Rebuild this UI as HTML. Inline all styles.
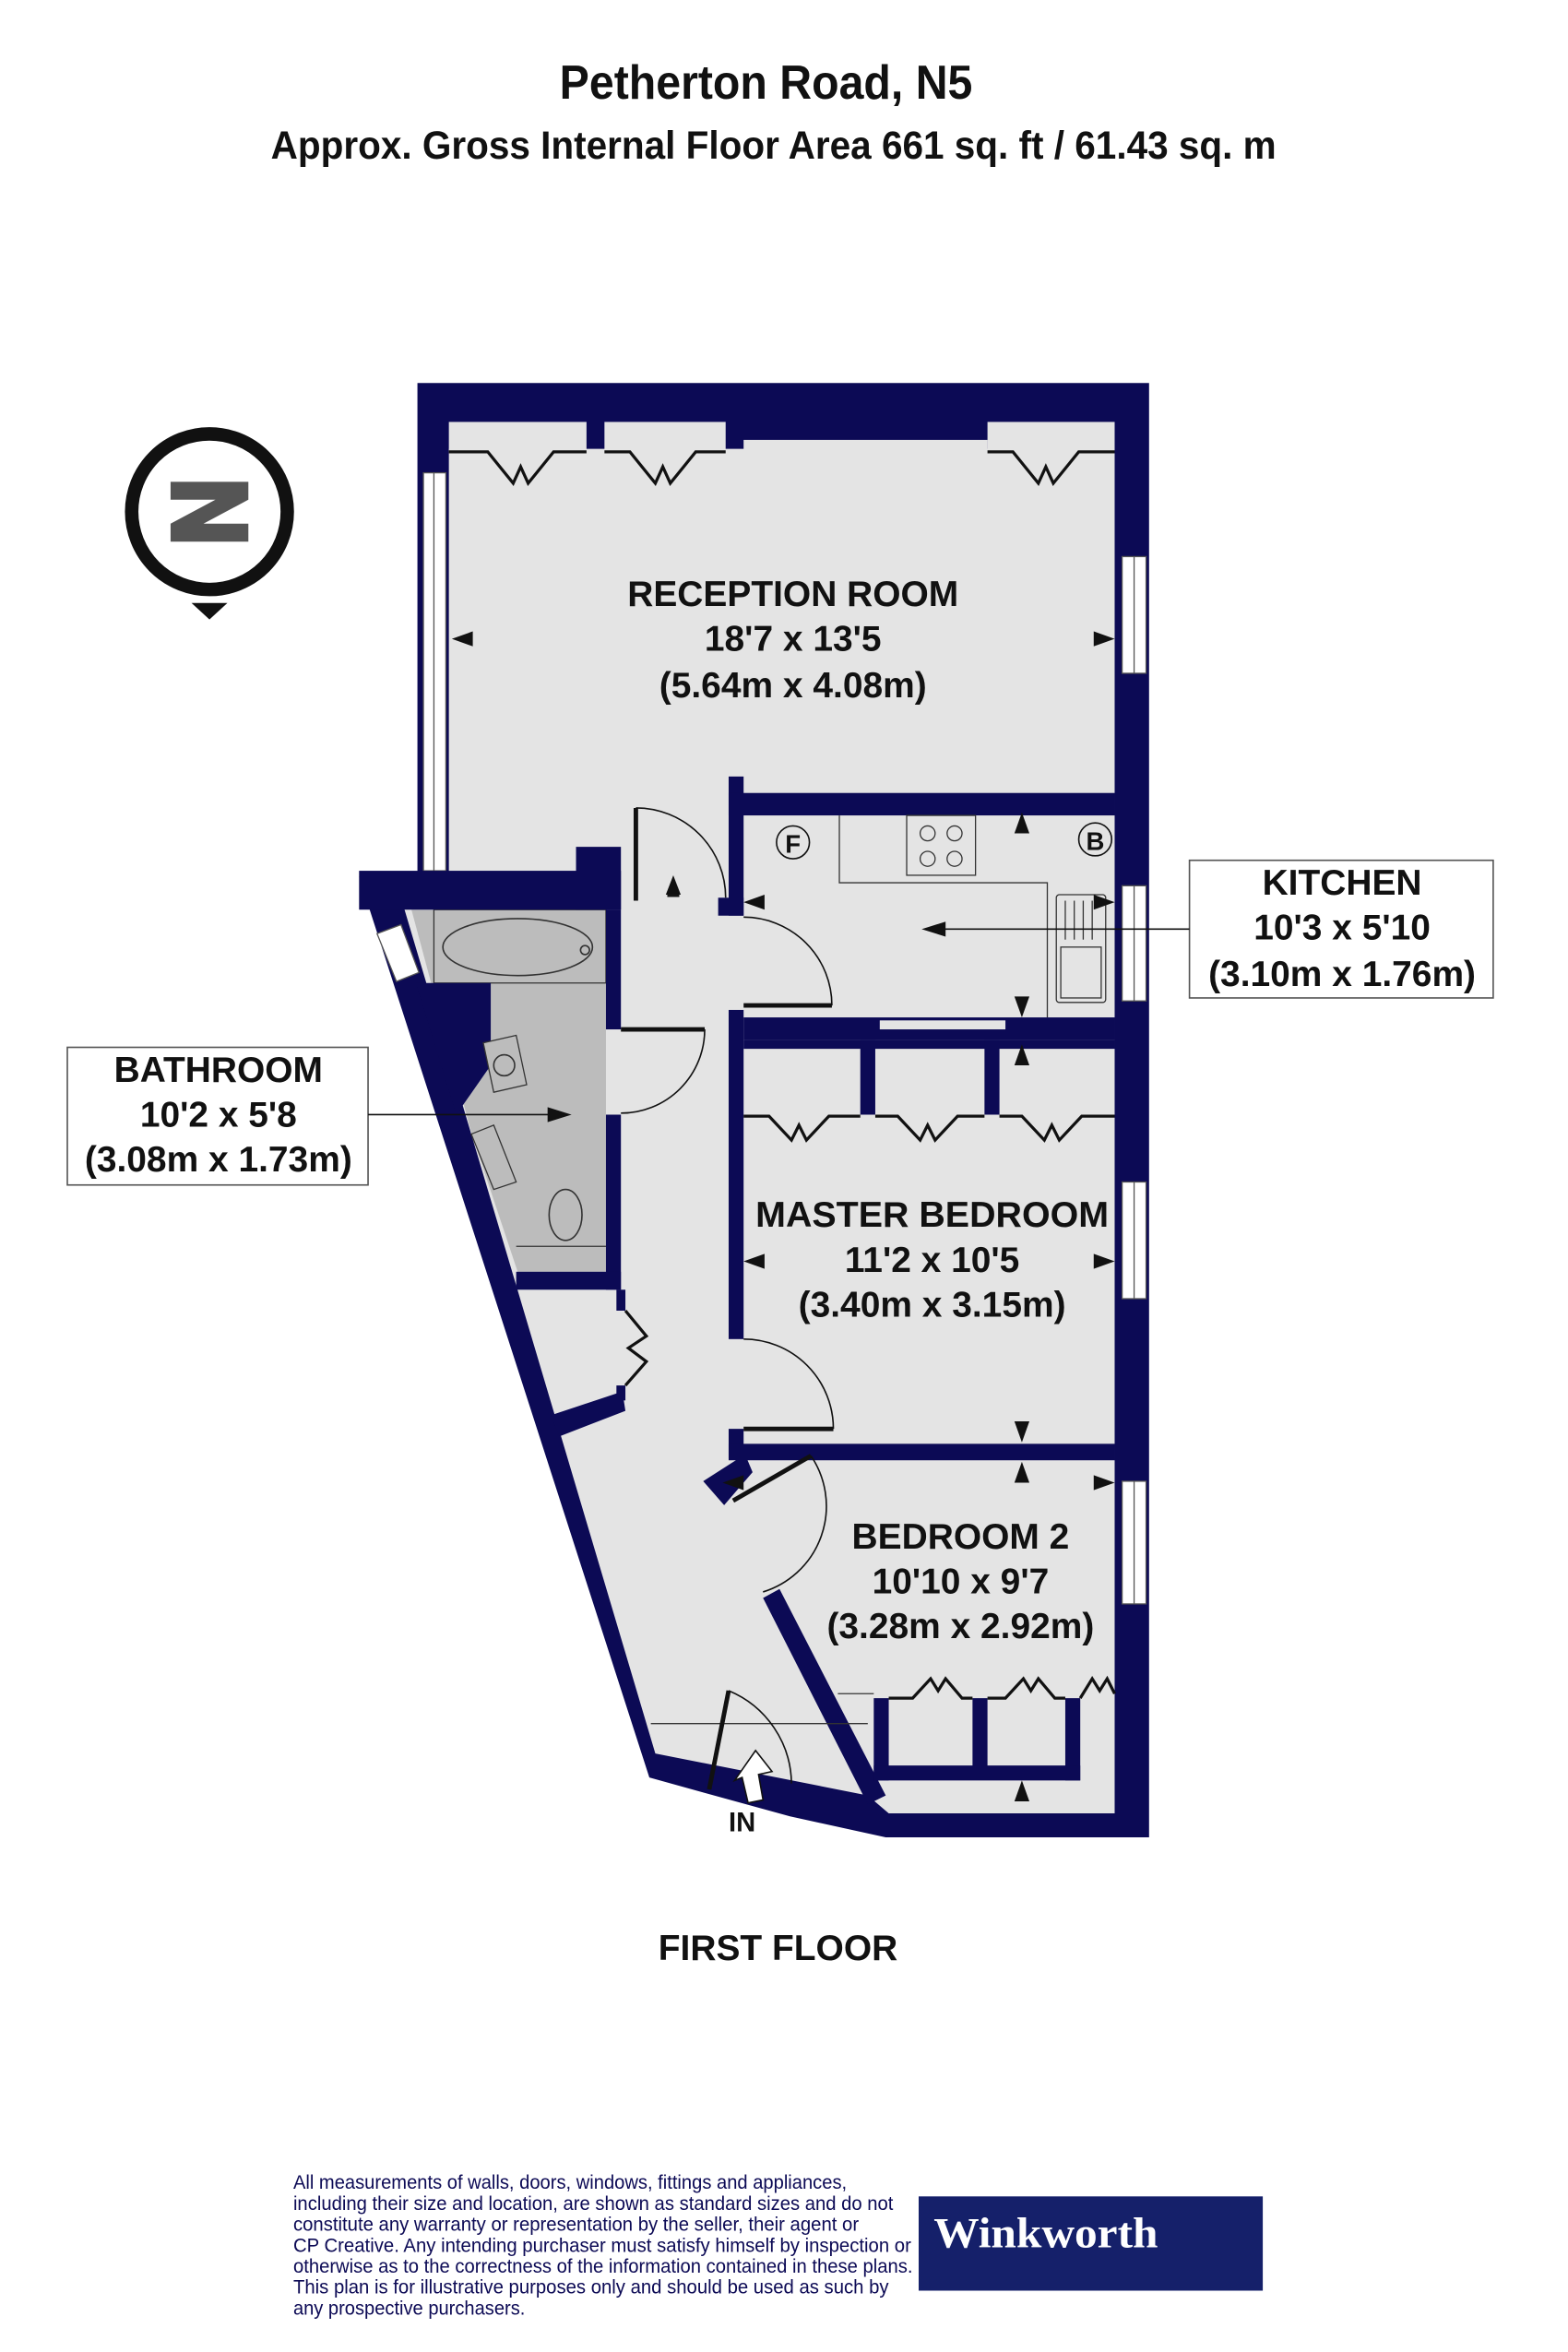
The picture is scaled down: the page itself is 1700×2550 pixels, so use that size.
<!DOCTYPE html>
<html><head><meta charset="utf-8"><style>
html,body{margin:0;padding:0;background:#fff;}
svg{display:block;}
.t{font-family:"Liberation Sans",Arial,sans-serif;font-weight:bold;fill:#111;}
</style></head><body>
<svg width="1700" height="2550" viewBox="0 0 1048 1572" preserveAspectRatio="none" xmlns="http://www.w3.org/2000/svg">
<rect width="1048" height="1572" fill="#fff"/>
<text class="t" x="512" y="66" font-size="32" text-anchor="middle" textLength="276" lengthAdjust="spacingAndGlyphs">Petherton Road, N5</text>
<text class="t" x="517" y="106" font-size="26" text-anchor="middle" textLength="672" lengthAdjust="spacingAndGlyphs">Approx. Gross Internal Floor Area 661 sq. ft / 61.43 sq. m</text>

<circle cx="140" cy="342" r="52" fill="#fff" stroke="#111" stroke-width="9"/>
<path d="M114 322 L166 322 L166 334 L136 350 L166 350 L166 362 L114 362 L114 350 L144 334 L114 334 Z" fill="#555"/>
<polygon points="128,403 152,403 140,414" fill="#111"/>

<polygon points="279,256 768,256 768,1228 592,1228 528,1214 470,1198 434,1188 240,586 279,586" fill="#0c0a55"/>
<polygon points="300,300 745,300 745,1212 594,1212 580,1200 438,1172 268,600 300,600" fill="#e4e4e4"/>
<rect x="300" y="282" width="92" height="20" fill="#e4e4e4"/>
<rect x="404" y="282" width="81" height="20" fill="#e4e4e4"/>
<rect x="497" y="294" width="163" height="8" fill="#e4e4e4"/>
<rect x="660" y="282" width="85" height="20" fill="#e4e4e4"/>
<g stroke="#111" stroke-width="2" fill="none">
<polyline points="300,302 326,302 343,323 348,312 353,323 370,302 392,302"/>
<polyline points="404,302 421,302 438,323 443,312 448,323 465,302 485,302"/>
<polyline points="660,302 677,302 694,323 699,312 704,323 721,302 745,302"/>
</g>

<g fill="#fff" stroke="#555" stroke-width="0.8">
<rect x="283" y="316" width="15" height="266"/><line x1="290" y1="316" x2="290" y2="582"/>
<rect x="750" y="372" width="16" height="78"/><line x1="758" y1="372" x2="758" y2="450"/>
<rect x="750" y="592" width="16" height="77"/><line x1="758" y1="592" x2="758" y2="669"/>
<rect x="750" y="790" width="16" height="78"/><line x1="758" y1="790" x2="758" y2="868"/>
<rect x="750" y="990" width="16" height="82"/><line x1="758" y1="990" x2="758" y2="1072"/>
<polygon points="252,624 268,618 280,650 265,656"/>
</g>

<polygon points="275,608 405,608 405,850 346,850 315,757" fill="#bcbcbc"/>
<polygon points="290,608 405,608 405,657 290,657" fill="#bcbcbc" stroke="#333" stroke-width="0.8"/>
<ellipse cx="346" cy="633" rx="50" ry="19" fill="none" stroke="#333" stroke-width="1"/>
<circle cx="391" cy="635" r="3" fill="none" stroke="#333"/>
<polygon points="278,657 328,657 328,712 305,745" fill="#0c0a55"/>
<polygon points="323,697 345,692 352,725 330,730" fill="#bcbcbc" stroke="#333" stroke-width="0.8"/>
<circle cx="337" cy="712" r="7" fill="none" stroke="#333"/>
<polygon points="315,758 330,752 345,790 330,795" fill="none" stroke="#333" stroke-width="0.8"/>
<ellipse cx="378" cy="812" rx="11" ry="17" fill="none" stroke="#333"/>
<line x1="345" y1="833" x2="405" y2="833" stroke="#333" stroke-width="0.8"/>

<g fill="#0c0a55">
<rect x="240" y="582" width="175" height="26"/>
<rect x="385" y="566" width="30" height="42"/>
<rect x="405" y="608" width="10" height="80"/>
<rect x="405" y="745" width="10" height="117"/>
<rect x="345" y="850" width="70" height="12"/>
<rect x="412" y="862" width="6" height="14"/>
<rect x="412" y="926" width="6" height="10"/>
<polygon points="368,946 416,930 418,943 374,960"/>
<rect x="487" y="519" width="10" height="93"/>
<rect x="480" y="600" width="17" height="12"/>
<rect x="487" y="675" width="10" height="220"/>
<rect x="487" y="530" width="258" height="15"/>
<rect x="497" y="680" width="248" height="15"/>
<rect x="497" y="695" width="248" height="6"/>
<rect x="575" y="695" width="10" height="50"/>
<rect x="658" y="695" width="10" height="50"/>
<rect x="487" y="955" width="10" height="20"/>
<rect x="487" y="965" width="258" height="11"/>
<polygon points="470,990 498,972 503,984 484,1006"/>
<polygon points="510,1068 521,1062 592,1200 580,1206"/>
<rect x="584" y="1135" width="10" height="55"/>
<rect x="650" y="1135" width="10" height="50"/>
<rect x="712" y="1135" width="10" height="55"/>
<rect x="584" y="1180" width="138" height="10"/>
</g>
<rect x="588" y="682" width="84" height="6" fill="#e4e4e4"/>
<g stroke="#111" stroke-width="2" fill="none">
<polyline points="497,746 514,746 529,762 534,752 539,762 554,746 575,746"/>
<polyline points="585,746 600,746 615,762 620,752 625,762 640,746 658,746"/>
<polyline points="668,746 683,746 698,762 703,752 708,762 723,746 745,746"/>
<polyline points="594,1135 610,1135 622,1122 627,1130 632,1122 643,1135 650,1135"/>
<polyline points="660,1135 672,1135 684,1122 689,1130 694,1122 705,1135 712,1135"/>
<polyline points="722,1135 730,1122 735,1130 740,1122 745,1132"/>
<polyline points="418,876 432,893 420,901 432,910 418,926"/>
</g>
<line x1="435" y1="1152" x2="580" y2="1152" stroke="#333" stroke-width="0.8"/>
<line x1="560" y1="1132" x2="584" y2="1132" stroke="#333" stroke-width="0.8"/>

<g stroke="#111" fill="none">
<line x1="425" y1="540" x2="425" y2="602" stroke-width="3"/>
<path d="M425,540 A60,60 0 0 1 485,600" stroke-width="1"/>
<line x1="497" y1="672" x2="556" y2="672" stroke-width="3"/>
<path d="M556,672 A59,59 0 0 0 497,613" stroke-width="1"/>
<line x1="415" y1="688" x2="471" y2="688" stroke-width="3"/>
<path d="M471,688 A56,56 0 0 1 415,744" stroke-width="1"/>
<line x1="497" y1="955" x2="557" y2="955" stroke-width="3"/>
<path d="M557,955 A60,60 0 0 0 497,895" stroke-width="1"/>
<line x1="490" y1="1003" x2="542" y2="973" stroke-width="3"/>
<path d="M542,973 A60,60 0 0 1 510,1064" stroke-width="1"/>
<line x1="487" y1="1130" x2="474" y2="1196" stroke-width="3"/>
<path d="M487,1130 A68,68 0 0 1 529,1192" stroke-width="1"/>
</g>
<polygon points="496,1188 500,1205 510,1203 507,1186 516,1184 505,1170 491,1190" fill="#fff" stroke="#111" stroke-width="1"/>
<text class="t" x="496" y="1224" font-size="18" text-anchor="middle">IN</text>

<g stroke="#333" stroke-width="0.8" fill="none">
<polyline points="561,545 561,590 700,590 700,680"/>
<rect x="606" y="545" width="46" height="40"/>
<circle cx="620" cy="557" r="5"/><circle cx="638" cy="557" r="5"/>
<circle cx="620" cy="574" r="5"/><circle cx="638" cy="574" r="5"/>
<rect x="706" y="598" width="33" height="72" rx="2"/>
<rect x="709" y="633" width="27" height="34"/>
<line x1="712" y1="602" x2="712" y2="628"/><line x1="718" y1="602" x2="718" y2="628"/><line x1="724" y1="602" x2="724" y2="628"/><line x1="730" y1="602" x2="730" y2="628"/>
</g>
<circle cx="530" cy="563" r="11" fill="none" stroke="#111" stroke-width="1"/>
<text class="t" x="530" y="570" font-size="17" text-anchor="middle">F</text>
<circle cx="732" cy="561" r="11" fill="none" stroke="#111" stroke-width="1"/>
<text class="t" x="732" y="568" font-size="17" text-anchor="middle">B</text>

<g fill="#111">
<polygon points="302,427 316,422 316,432"/><polygon points="745,427 731,422 731,432"/>
<polygon points="450,585 445,598 455,598"/><rect x="446" y="598" width="8" height="1.5"/>
<polygon points="497,603 511,598 511,608"/>
<polygon points="683,543 678,557 688,557"/><polygon points="683,680 678,666 688,666"/>
<polygon points="745,603 731,598 731,608"/>
<polygon points="683,698 678,712 688,712"/>
<polygon points="497,843 511,838 511,848"/><polygon points="745,843 731,838 731,848"/>
<polygon points="683,964 678,950 688,950"/><polygon points="683,977 678,991 688,991"/>
<polygon points="745,991 731,986 731,996"/>
<polygon points="483,991 497,986 497,996"/>
<polygon points="683,1190 678,1204 688,1204"/>
</g>

<g class="t" font-size="24" text-anchor="middle">
<text x="530" y="405">RECEPTION ROOM</text>
<text x="530" y="435">18'7 x 13'5</text>
<text x="530" y="466">(5.64m x 4.08m)</text>
<text x="623" y="820" textLength="236" lengthAdjust="spacingAndGlyphs">MASTER BEDROOM</text>
<text x="623" y="850">11'2 x 10'5</text>
<text x="623" y="880">(3.40m x 3.15m)</text>
<text x="642" y="1035">BEDROOM 2</text>
<text x="642" y="1065">10'10 x 9'7</text>
<text x="642" y="1095">(3.28m x 2.92m)</text>
</g>

<rect x="795" y="575" width="203" height="92" fill="#fff" stroke="#555" stroke-width="1"/>
<line x1="795" y1="621" x2="630" y2="621" stroke="#111" stroke-width="1"/>
<polygon points="616,621 632,616 632,626" fill="#111"/>
<g class="t" font-size="24" text-anchor="middle">
<text x="897" y="598">KITCHEN</text>
<text x="897" y="628">10'3 x 5'10</text>
<text x="897" y="659">(3.10m x 1.76m)</text>
</g>
<rect x="45" y="700" width="201" height="92" fill="#fff" stroke="#555" stroke-width="1"/>
<line x1="246" y1="745" x2="368" y2="745" stroke="#111" stroke-width="1"/>
<polygon points="382,745 366,740 366,750" fill="#111"/>
<g class="t" font-size="24" text-anchor="middle">
<text x="146" y="723">BATHROOM</text>
<text x="146" y="753">10'2 x 5'8</text>
<text x="146" y="783">(3.08m x 1.73m)</text>
</g>

<text class="t" x="520" y="1310" font-size="24" text-anchor="middle">FIRST FLOOR</text>

<g font-family="'Liberation Sans Narrow','Liberation Sans',sans-serif" font-size="13" fill="#0c0a55">
<text x="196" y="1463" textLength="370" lengthAdjust="spacingAndGlyphs">All measurements of walls, doors, windows, fittings and appliances,</text>
<text x="196" y="1477" textLength="401" lengthAdjust="spacingAndGlyphs">including their size and location, are shown as standard sizes and do not</text>
<text x="196" y="1491" textLength="378" lengthAdjust="spacingAndGlyphs">constitute any warranty or representation by the seller, their agent or</text>
<text x="196" y="1505" textLength="413" lengthAdjust="spacingAndGlyphs">CP Creative. Any intending purchaser must satisfy himself by inspection or</text>
<text x="196" y="1519" textLength="414" lengthAdjust="spacingAndGlyphs">otherwise as to the correctness of the information contained in these plans.</text>
<text x="196" y="1533" textLength="398" lengthAdjust="spacingAndGlyphs">This plan is for illustrative purposes only and should be used as such by</text>
<text x="196" y="1547" textLength="155" lengthAdjust="spacingAndGlyphs">any prospective purchasers.</text>
</g>
<rect x="614" y="1468" width="230" height="63" fill="#15206a"/>
<text x="624" y="1502" font-family="'Liberation Serif',serif" font-weight="bold" font-size="29" fill="#fff" textLength="150" lengthAdjust="spacingAndGlyphs">Winkworth</text>
</svg>
</body></html>
